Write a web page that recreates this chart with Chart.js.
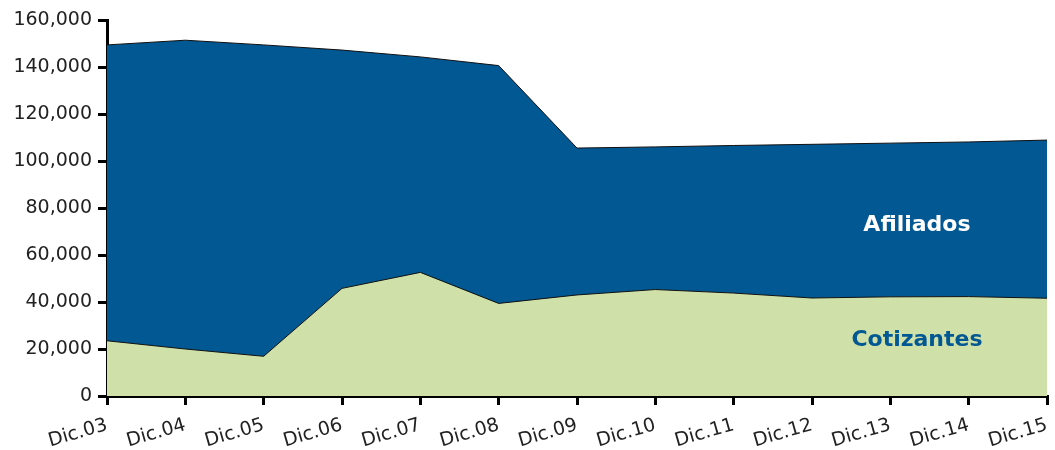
<!DOCTYPE html>
<html>
<head>
<meta charset="utf-8">
<script src="https://cdn.jsdelivr.net/npm/chart.js@4"></script>
<style>
  html, body { margin: 0; padding: 0; background: #fff; }
  #wrap { width: 1055px; height: 450px; }
</style>
</head>
<body>
<div id="wrap"><canvas id="chart" width="1055" height="450"></canvas></div>
<script>
const labels = ["Dic.03", "Dic.04", "Dic.05", "Dic.06", "Dic.07", "Dic.08", "Dic.09",
  "Dic.10", "Dic.11", "Dic.12", "Dic.13", "Dic.14", "Dic.15"];
const afiliados = [149400, 151400, 149400, 147200, 144300, 140600, 105500,
  106000, 106600, 107100, 107600, 108100, 108900];
const cotizantes = [23500, 20000, 16900, 45800, 52600, 39400, 43000,
  45300, 43800, 41700, 42200, 42300, 41600];
const yTicks = [0, 20000, 40000, 60000, 80000, 100000, 120000, 140000, 160000];

const BLUE = "#015893";
const GREEN = "#cfe0a8";

// series names written inside the areas
const areaLabels = {
  id: "areaLabels",
  afterDatasetsDraw(chart) {
    const { ctx, scales: { x, y } } = chart;
    const xPos = x.getPixelForValue(10.34);
    ctx.save();
    ctx.font = "bold 22px 'DejaVu Sans'";
    ctx.textAlign = "center";
    ctx.textBaseline = "middle";
    ctx.fillStyle = "#ffffff";
    ctx.fillText("Afiliados", xPos, y.getPixelForValue(72800));
    ctx.fillStyle = BLUE;
    ctx.fillText("Cotizantes", xPos, y.getPixelForValue(23800));
    ctx.restore();
  },
};

new Chart(document.getElementById("chart"), {
  type: "line",
  data: {
    labels,
    datasets: [
      {
        label: "Cotizantes",
        data: cotizantes,
        fill: "origin",
        backgroundColor: GREEN,
        borderColor: "#111",
        borderWidth: 1,
        pointRadius: 0,
        tension: 0,
      },
      {
        label: "Afiliados",
        data: afiliados,
        fill: "origin",
        backgroundColor: BLUE,
        borderColor: "#111",
        borderWidth: 1,
        pointRadius: 0,
        tension: 0,
      },
    ],
  },
  options: {
    responsive: false,
    animation: false,
    layout: { padding: { left: 0, right: 8, top: 20, bottom: 0 } },
    plugins: {
      legend: { display: false },
      tooltip: { enabled: false },
    },
    scales: {
      x: {
        offset: false,
        grid: {
          drawOnChartArea: false,
          drawTicks: true,
          tickLength: 9,
          tickColor: "#000",
          lineWidth: 3,
        },
        border: { color: "#000", width: 3 },
        ticks: {
          color: "#222",
          font: { family: "DejaVu Sans", size: 19 },
          minRotation: 16,
          maxRotation: 16,
          padding: 9,
          autoSkip: false,
        },
        afterFit(scale) {
          scale.height = 54;
          scale.paddingLeft = 0;
          scale.paddingRight = 0;
        },
      },
      y: {
        min: 0,
        max: 160000,
        afterBuildTicks(scale) { scale.ticks = yTicks.map(v => ({ value: v })); },
        grid: {
          drawOnChartArea: false,
          drawTicks: true,
          tickLength: 9,
          tickColor: "#000",
          lineWidth: 3,
        },
        border: { color: "#000", width: 3 },
        ticks: {
          color: "#222",
          font: { family: "DejaVu Sans", size: 19 },
          padding: 6,
          callback: v => v.toLocaleString("en-US"),
        },
        afterFit(scale) { scale.width = 107; },
      },
    },
  },
  plugins: [areaLabels],
});
</script>
</body>
</html>
